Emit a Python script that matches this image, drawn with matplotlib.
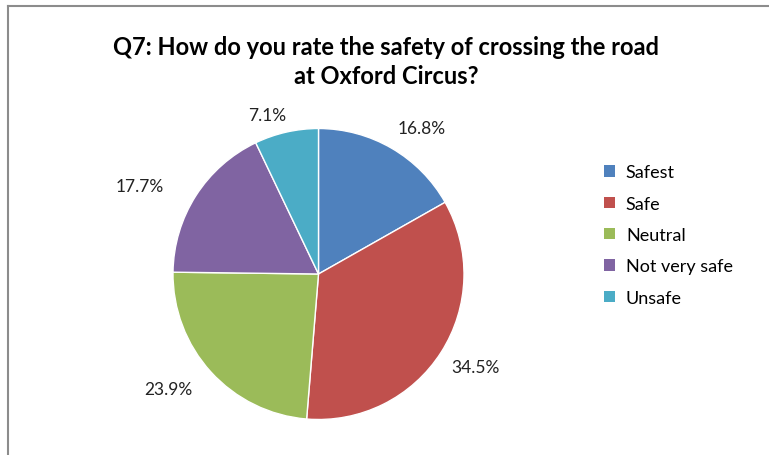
import matplotlib
matplotlib.use("Agg")
import numpy as np
import matplotlib.pyplot as plt
from matplotlib.lines import Line2D
from matplotlib.patches import Patch

title = "Q7: How do you rate the safety of crossing the road\nat Oxford Circus?"
categories = ["Safest", "Safe", "Neutral", "Not very safe", "Unsafe"]
shares = [16.8, 34.5, 23.9, 17.7, 7.1]
colors = ["#4F81BD", "#C0504D", "#9BBB59", "#8064A2", "#4BACC6"]
# best-fit label placement like Excel: distance (radii) and angle nudge (deg)
label_dist = [1.23, 1.25, 1.30, 1.37, 1.15]
label_nudge = [-5, 2, -5, 6.5, 5]

plt.rcParams["font.family"] = ["Lato", "DejaVu Sans"]

W, H = 769, 456
fig = plt.figure(figsize=(W / 100, H / 100), dpi=100)

# chart frame (bottom/right cut off in the reference)
fig.add_artist(Line2D([8 / W, 8 / W], [0, 1 - 7 / H], color="#8c8c8c", lw=1.5))
fig.add_artist(Line2D([8 / W, 1], [1 - 7 / H, 1 - 7 / H], color="#8c8c8c", lw=1.5))

fig.text(386 / W, 1 - 62 / H, title, ha="center", va="center",
         fontsize=17, fontweight="bold", linespacing=1.3)

cx, cy, r = 318.5, 275, 145.5
ax = fig.add_axes([(cx - r) / W, (H - cy - r) / H, 2 * r / W, 2 * r / H])
wedges, _, pcts = ax.pie(
    shares, colors=colors, startangle=90, counterclock=False, radius=1,
    autopct="%.1f%%", pctdistance=1.25,
    wedgeprops=dict(edgecolor="white", linewidth=1),
    textprops=dict(fontsize=12.5, color="#222222"),
)
for w, t, d, n in zip(wedges, pcts, label_dist, label_nudge):
    mid = np.deg2rad((w.theta1 + w.theta2) / 2 + n)
    t.set_position((d * np.cos(mid), d * np.sin(mid)))
ax.set_xlim(-1, 1)
ax.set_ylim(-1, 1)
ax.set_aspect("equal")

handles = [Patch(facecolor=c, edgecolor="none") for c in colors]
fig.legend(handles, categories, loc="upper left",
           bbox_to_anchor=(588 / W, 1 - 149 / H), frameon=False,
           fontsize=13, handlelength=0.6, handleheight=0.6,
           handletextpad=0.6, labelspacing=0.85)

fig.savefig("out.png", dpi=100, facecolor="white")
